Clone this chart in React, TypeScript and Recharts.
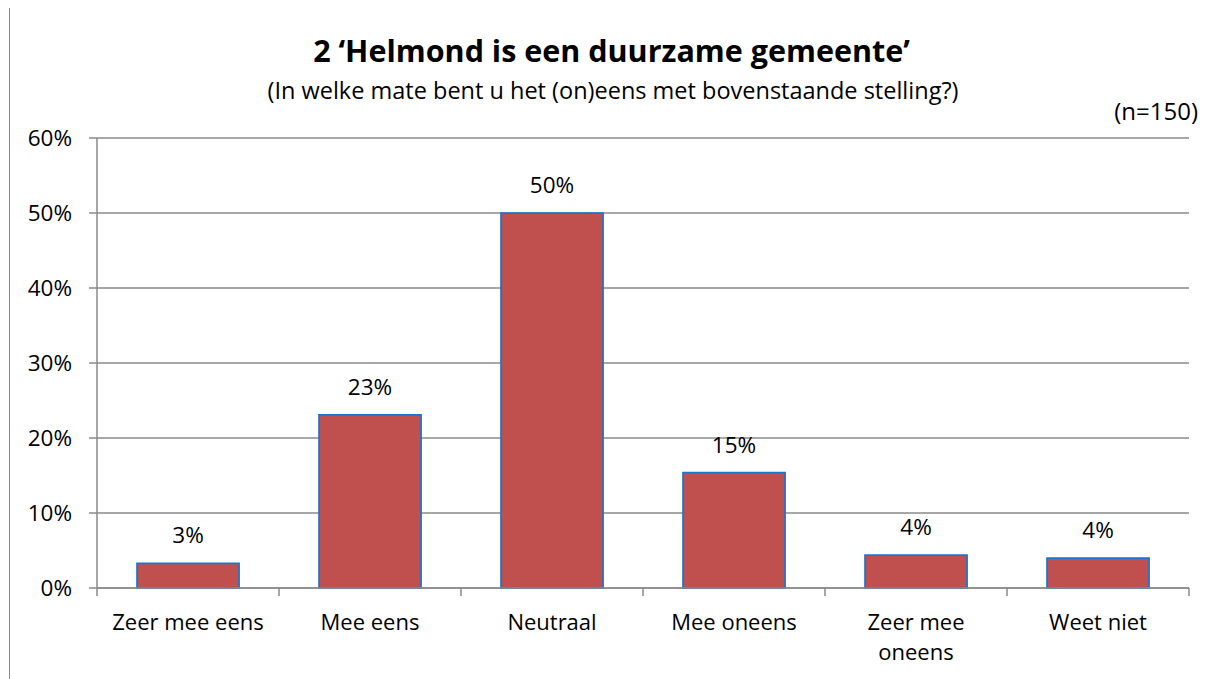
import { BarChart, Bar, XAxis, YAxis, CartesianGrid, LabelList } from "recharts"

const categories = ["Zeer mee eens", "Mee eens", "Neutraal", "Mee oneens", "Zeer mee oneens", "Weet niet"]
const percentages = [3.3, 23.1, 50.0, 15.4, 4.4, 4.0]
const yTicks = [0, 10, 20, 30, 40, 50, 60]

const title = "2 \u2018Helmond is een duurzame gemeente\u2019"
const subtitle = "(In welke mate bent u het (on)eens met bovenstaande stelling?)"
const sampleNote = "(n=150)"

const FONT = "'Open Sans', sans-serif"
const GRAY = "#8a8a8a"
const MAX_CHARS = 14

// simple word wrap on character count
function wrapLabel(label: string) {
  const lines: string[] = []
  let cur = ""
  for (const w of label.split(" ")) {
    const next = cur ? `${cur} ${w}` : w
    if (next.length > MAX_CHARS && cur) {
      lines.push(cur)
      cur = w
    } else {
      cur = next
    }
  }
  if (cur) lines.push(cur)
  return lines
}

// category label plus Excel-style tick marks between the categories
function CategoryTick({ x, y, payload, index, width, visibleTicksCount }: any) {
  const band = width / visibleTicksCount
  const lines = wrapLabel(String(payload.value))
  return (
    <g>
      <line x1={x - band / 2} x2={x - band / 2} y1={y} y2={y + 8} stroke={GRAY} strokeWidth={1.5} />
      {index === visibleTicksCount - 1 && (
        <line x1={x + band / 2} x2={x + band / 2} y1={y} y2={y + 8} stroke={GRAY} strokeWidth={1.5} />
      )}
      <text x={x} y={y + 42} textAnchor="middle" fontSize={22} fontFamily={FONT} fill="#000">
        {lines.map((l, i) => (
          <tspan key={i} x={x} dy={i === 0 ? 0 : 30}>
            {l}
          </tspan>
        ))}
      </text>
    </g>
  )
}

export default function App() {
  const chartData = categories.map((name, i) => ({ name, value: percentages[i] }))

  return (
    <div
      style={{
        position: "relative",
        width: 1208,
        height: 675,
        marginTop: -1,
        marginLeft: 1,
        border: `1px solid ${GRAY}`,
        boxSizing: "border-box",
        background: "#fff",
        fontFamily: FONT,
      }}
    >
      <BarChart
        width={1203}
        height={670}
        data={chartData}
        margin={{ top: 130, right: 24, bottom: 89, left: 27 }}
        barCategoryGap="22%"
      >
        <CartesianGrid vertical={false} stroke={GRAY} strokeWidth={1.5} />
        <XAxis
          dataKey="name"
          height={1}
          interval={0}
          axisLine={{ stroke: GRAY, strokeWidth: 1.5 }}
          tickLine={false}
          tickSize={0}
          tickMargin={0}
          tick={<CategoryTick />}
        />
        <YAxis
          width={60}
          domain={[0, 60]}
          ticks={yTicks}
          interval={0}
          tickFormatter={(v) => `${v}%`}
          tick={{ fontSize: 22.5, fontFamily: FONT, fill: "#000" }}
          tickSize={8}
          tickMargin={17}
          axisLine={{ stroke: GRAY, strokeWidth: 1.5 }}
          tickLine={{ stroke: GRAY, strokeWidth: 1.5 }}
        />
        <Bar dataKey="value" fill="#C0504D" stroke="#1a74d0" strokeWidth={1.75} isAnimationActive={false}>
          <LabelList
            dataKey="value"
            position="top"
            offset={20}
            formatter={(v: any) => `${Math.round(Number(v))}%`}
            style={{ fontSize: 22.5, fontFamily: FONT, fill: "#000" }}
          />
        </Bar>
      </BarChart>
      <svg
        width={1203}
        height={140}
        style={{ position: "absolute", left: 0, top: 0, pointerEvents: "none" }}
      >
        <text x={601.5} y={54} textAnchor="middle" fontSize={30.5} fontWeight={700} fontFamily={FONT} fill="#000">
          {title}
        </text>
        <text x={603} y={91} textAnchor="middle" fontSize={23.5} fontFamily={FONT} fill="#000">
          {subtitle}
        </text>
        <text x={1188} y={112} textAnchor="end" fontSize={24} fontFamily={FONT} fill="#000">
          {sampleNote}
        </text>
      </svg>
    </div>
  )
}
